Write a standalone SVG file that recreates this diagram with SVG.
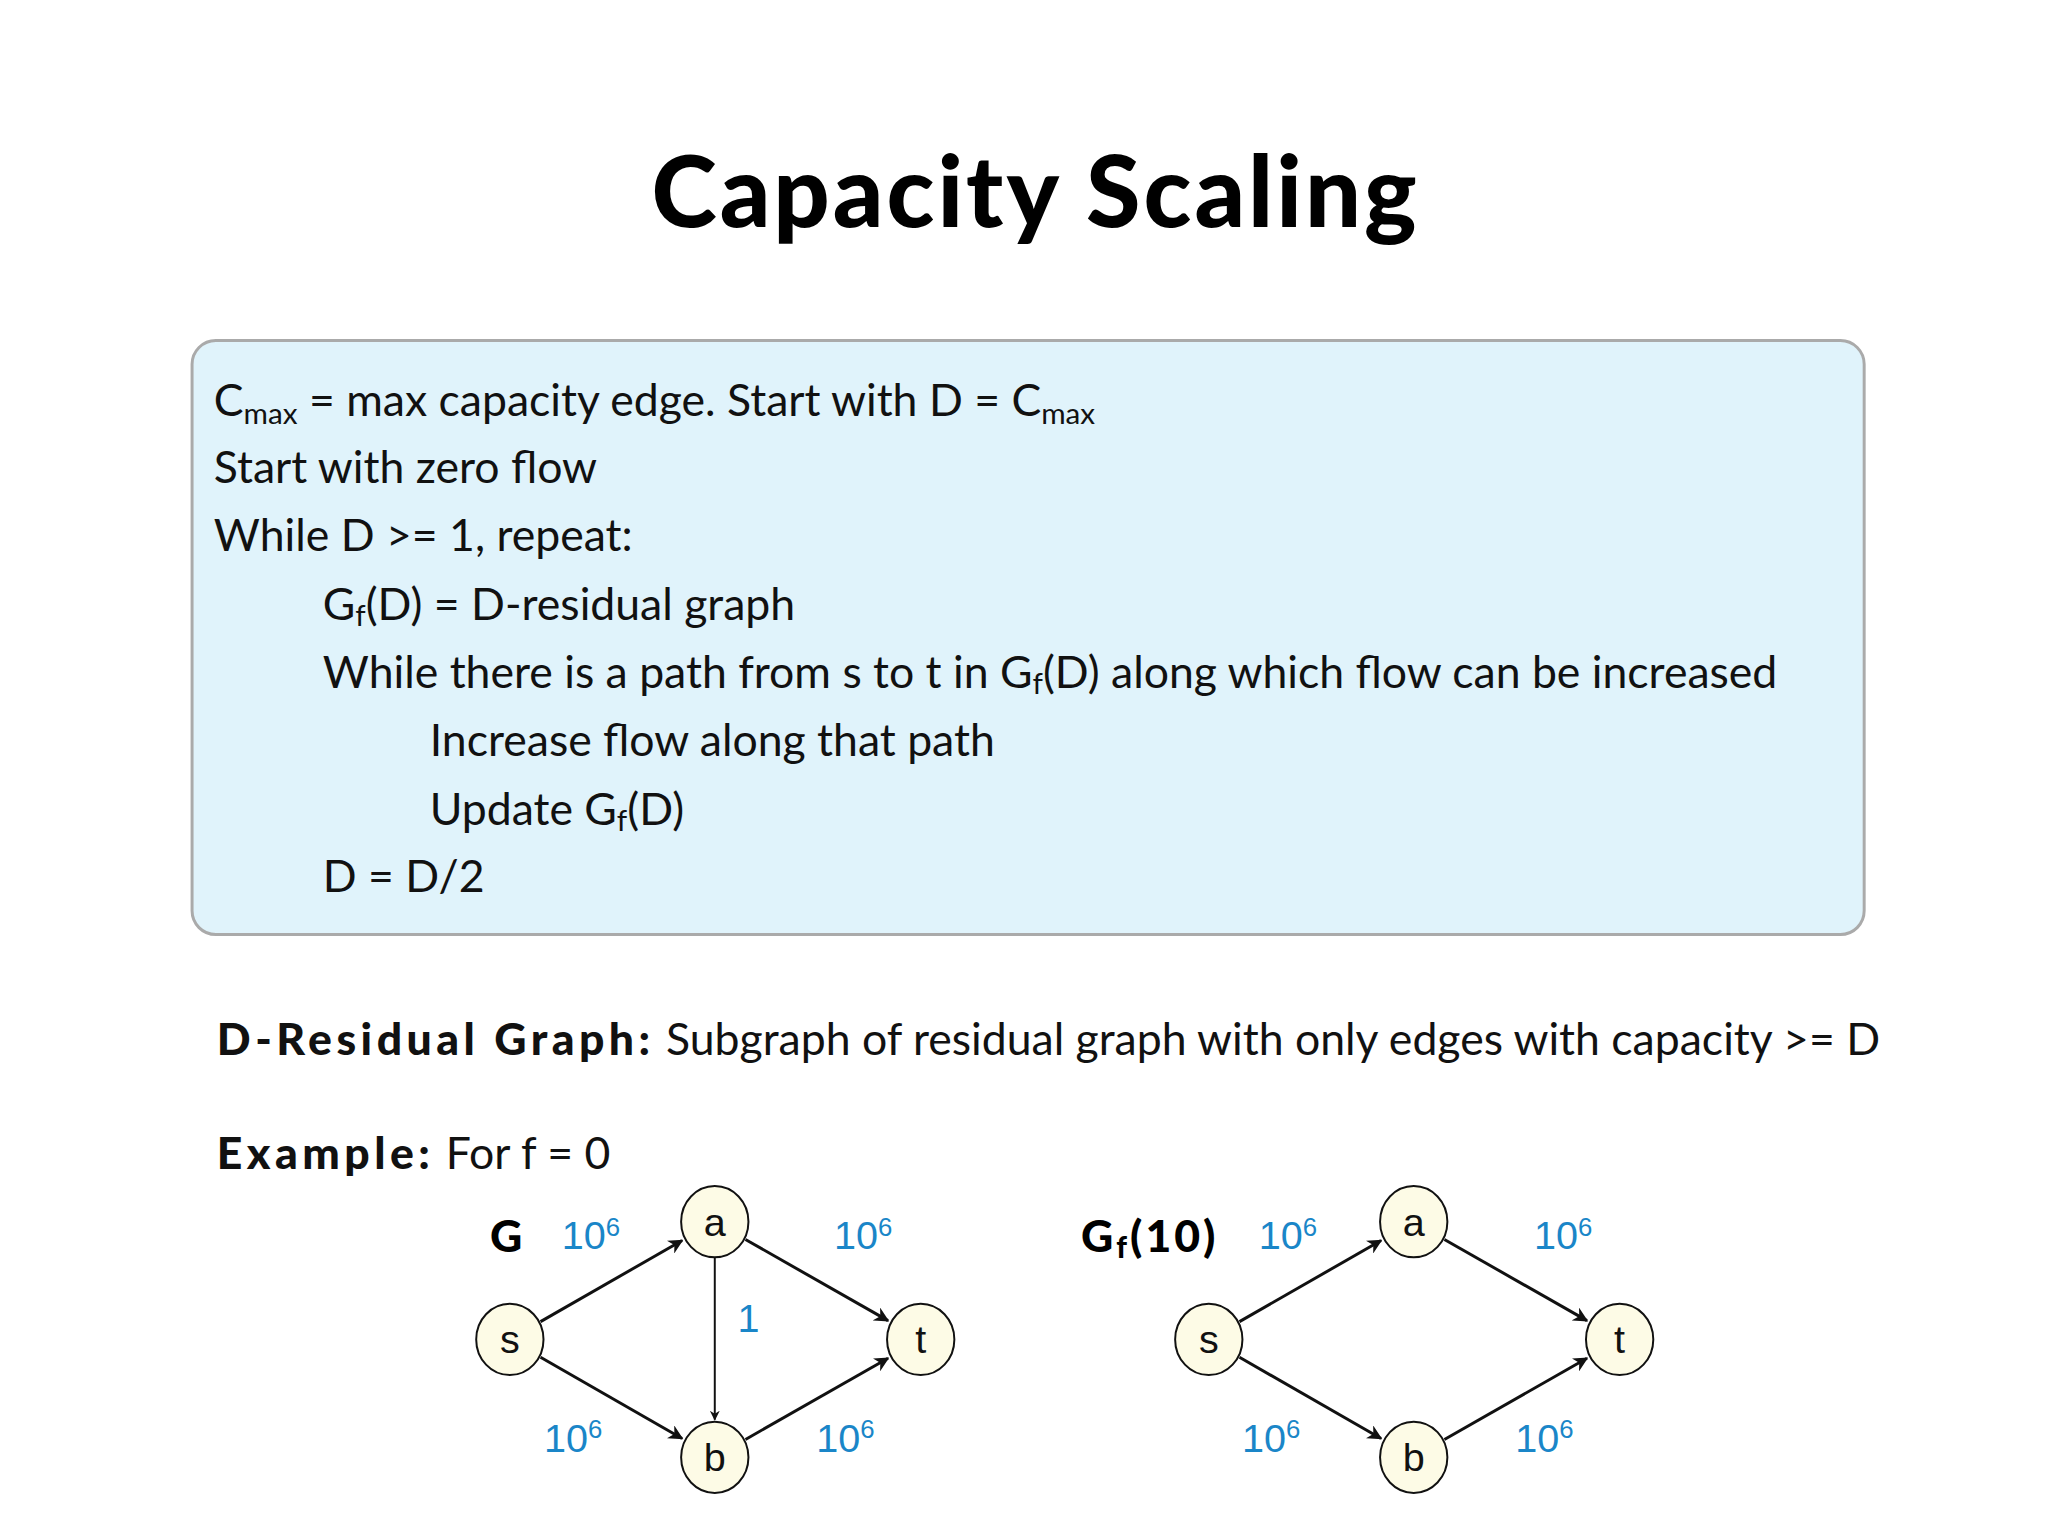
<svg xmlns="http://www.w3.org/2000/svg" width="2048" height="1536" viewBox="0 0 2048 1536">
<style>
.t{font-family:Lato,"Liberation Sans",sans-serif;font-size:45px;fill:#111}
.b{font-weight:900;letter-spacing:4.5px}
.n{font-family:"Liberation Sans",Arial,sans-serif;font-size:40px;fill:#111;text-anchor:middle}
.l{font-family:"Liberation Sans",Arial,sans-serif;font-size:40px;fill:#1a86c8;text-anchor:middle}
.nd{fill:#fdfbe6;stroke:#111;stroke-width:2}
.e{stroke:#111;stroke-width:3;fill:none;marker-end:url(#ah)}
</style>
<defs><marker id="ah" viewBox="0 0 10 10" refX="9" refY="5" markerWidth="5" markerHeight="5" orient="auto"><path d="M0,0L10,5L0,10L3,5z" fill="#111"/></marker></defs>
<rect width="2048" height="1536" fill="#fff"/>
<g transform="scale(0.99)">
<text x="1046" y="229" text-anchor="middle" style="font-family:Lato,sans-serif;font-weight:900;font-size:100px;letter-spacing:3px;fill:#000">Capacity Scaling</text>
<g id="algo">
<rect x="194" y="344" width="1689" height="600" rx="24" fill="#e0f3fb" stroke="#aaa" stroke-width="3"/>
<text class="t" x="216" y="420">C<tspan font-size="30" dy="8">max</tspan><tspan dy="-8"> = max capacity edge.  Start with D = C</tspan><tspan font-size="30" dy="8">max</tspan></text>
<text class="t" x="216" y="488">Start with zero flow</text>
<text class="t" x="216" y="557">While D &gt;= 1, repeat:</text>
<text class="t" x="326" y="626">G<tspan font-size="30" dy="6">f</tspan><tspan dy="-6">(D) = D-residual graph</tspan></text>
<text class="t" x="326" y="695">While there is a path from s to t in G<tspan font-size="30" dy="6">f</tspan><tspan dy="-6">(D) along which flow can be increased</tspan></text>
<text class="t" x="434" y="764">Increase flow along that path</text>
<text class="t" x="434" y="833">Update G<tspan font-size="30" dy="6">f</tspan><tspan dy="-6">(D)</tspan></text>
<text class="t" x="326" y="901">D = D/2</text>
</g>
<text class="t" x="219" y="1066"><tspan class="b">D-Residual Graph:</tspan> Subgraph of residual graph with only edges with capacity &gt;= D</text>
<text class="t" x="219" y="1181"><tspan class="b">Example:</tspan> For f = 0</text>
<g id="connectors">
<path class="e" d="M546,1335L689,1253"/>
<path class="e" d="M546,1371L689,1453"/>
<path class="e" d="M753,1252L897,1334"/>
<path class="e" d="M753,1454L897,1372"/>
<path class="e" style="stroke-width:2" d="M722,1270L722,1434"/>
<path class="e" d="M1252,1335L1395,1253"/>
<path class="e" d="M1252,1371L1395,1453"/>
<path class="e" d="M1459,1252L1603,1334"/>
<path class="e" d="M1459,1454L1603,1372"/>
</g>
<g id="G_s"><ellipse class="nd" cx="515" cy="1353" rx="34" ry="36"/><text class="n" x="515" y="1367">s</text></g>
<g id="G_a"><ellipse class="nd" cx="722" cy="1234" rx="34" ry="36"/><text class="n" x="722" y="1248">a</text></g>
<g id="G_b"><ellipse class="nd" cx="722" cy="1472" rx="34" ry="36"/><text class="n" x="722" y="1486">b</text></g>
<g id="G_t"><ellipse class="nd" cx="930" cy="1353" rx="34" ry="36"/><text class="n" x="930" y="1367">t</text></g>
<g id="H_s"><ellipse class="nd" cx="1221" cy="1353" rx="34" ry="36"/><text class="n" x="1221" y="1367">s</text></g>
<g id="H_a"><ellipse class="nd" cx="1428" cy="1234" rx="34" ry="36"/><text class="n" x="1428" y="1248">a</text></g>
<g id="H_b"><ellipse class="nd" cx="1428" cy="1472" rx="34" ry="36"/><text class="n" x="1428" y="1486">b</text></g>
<g id="H_t"><ellipse class="nd" cx="1636" cy="1353" rx="34" ry="36"/><text class="n" x="1636" y="1367">t</text></g>
<g id="labels">
<text x="495" y="1265" style="font-family:Lato,sans-serif;font-weight:900;font-size:45px">G</text>
<text x="1092" y="1265" style="font-family:Lato,sans-serif;font-weight:900;font-size:45px;letter-spacing:3px">G<tspan font-size="30" dy="6">f</tspan><tspan dy="-6">(10)</tspan></text>
<text class="l" x="597" y="1262">10<tspan font-size="26" dy="-14">6</tspan></text>
<text class="l" x="872" y="1262">10<tspan font-size="26" dy="-14">6</tspan></text>
<text class="l" x="579" y="1467">10<tspan font-size="26" dy="-14">6</tspan></text>
<text class="l" x="854" y="1467">10<tspan font-size="26" dy="-14">6</tspan></text>
<text class="l" x="756" y="1345">1</text>
<text class="l" x="1301" y="1262">10<tspan font-size="26" dy="-14">6</tspan></text>
<text class="l" x="1579" y="1262">10<tspan font-size="26" dy="-14">6</tspan></text>
<text class="l" x="1284" y="1467">10<tspan font-size="26" dy="-14">6</tspan></text>
<text class="l" x="1560" y="1467">10<tspan font-size="26" dy="-14">6</tspan></text>
</g>
</g>
</svg>
